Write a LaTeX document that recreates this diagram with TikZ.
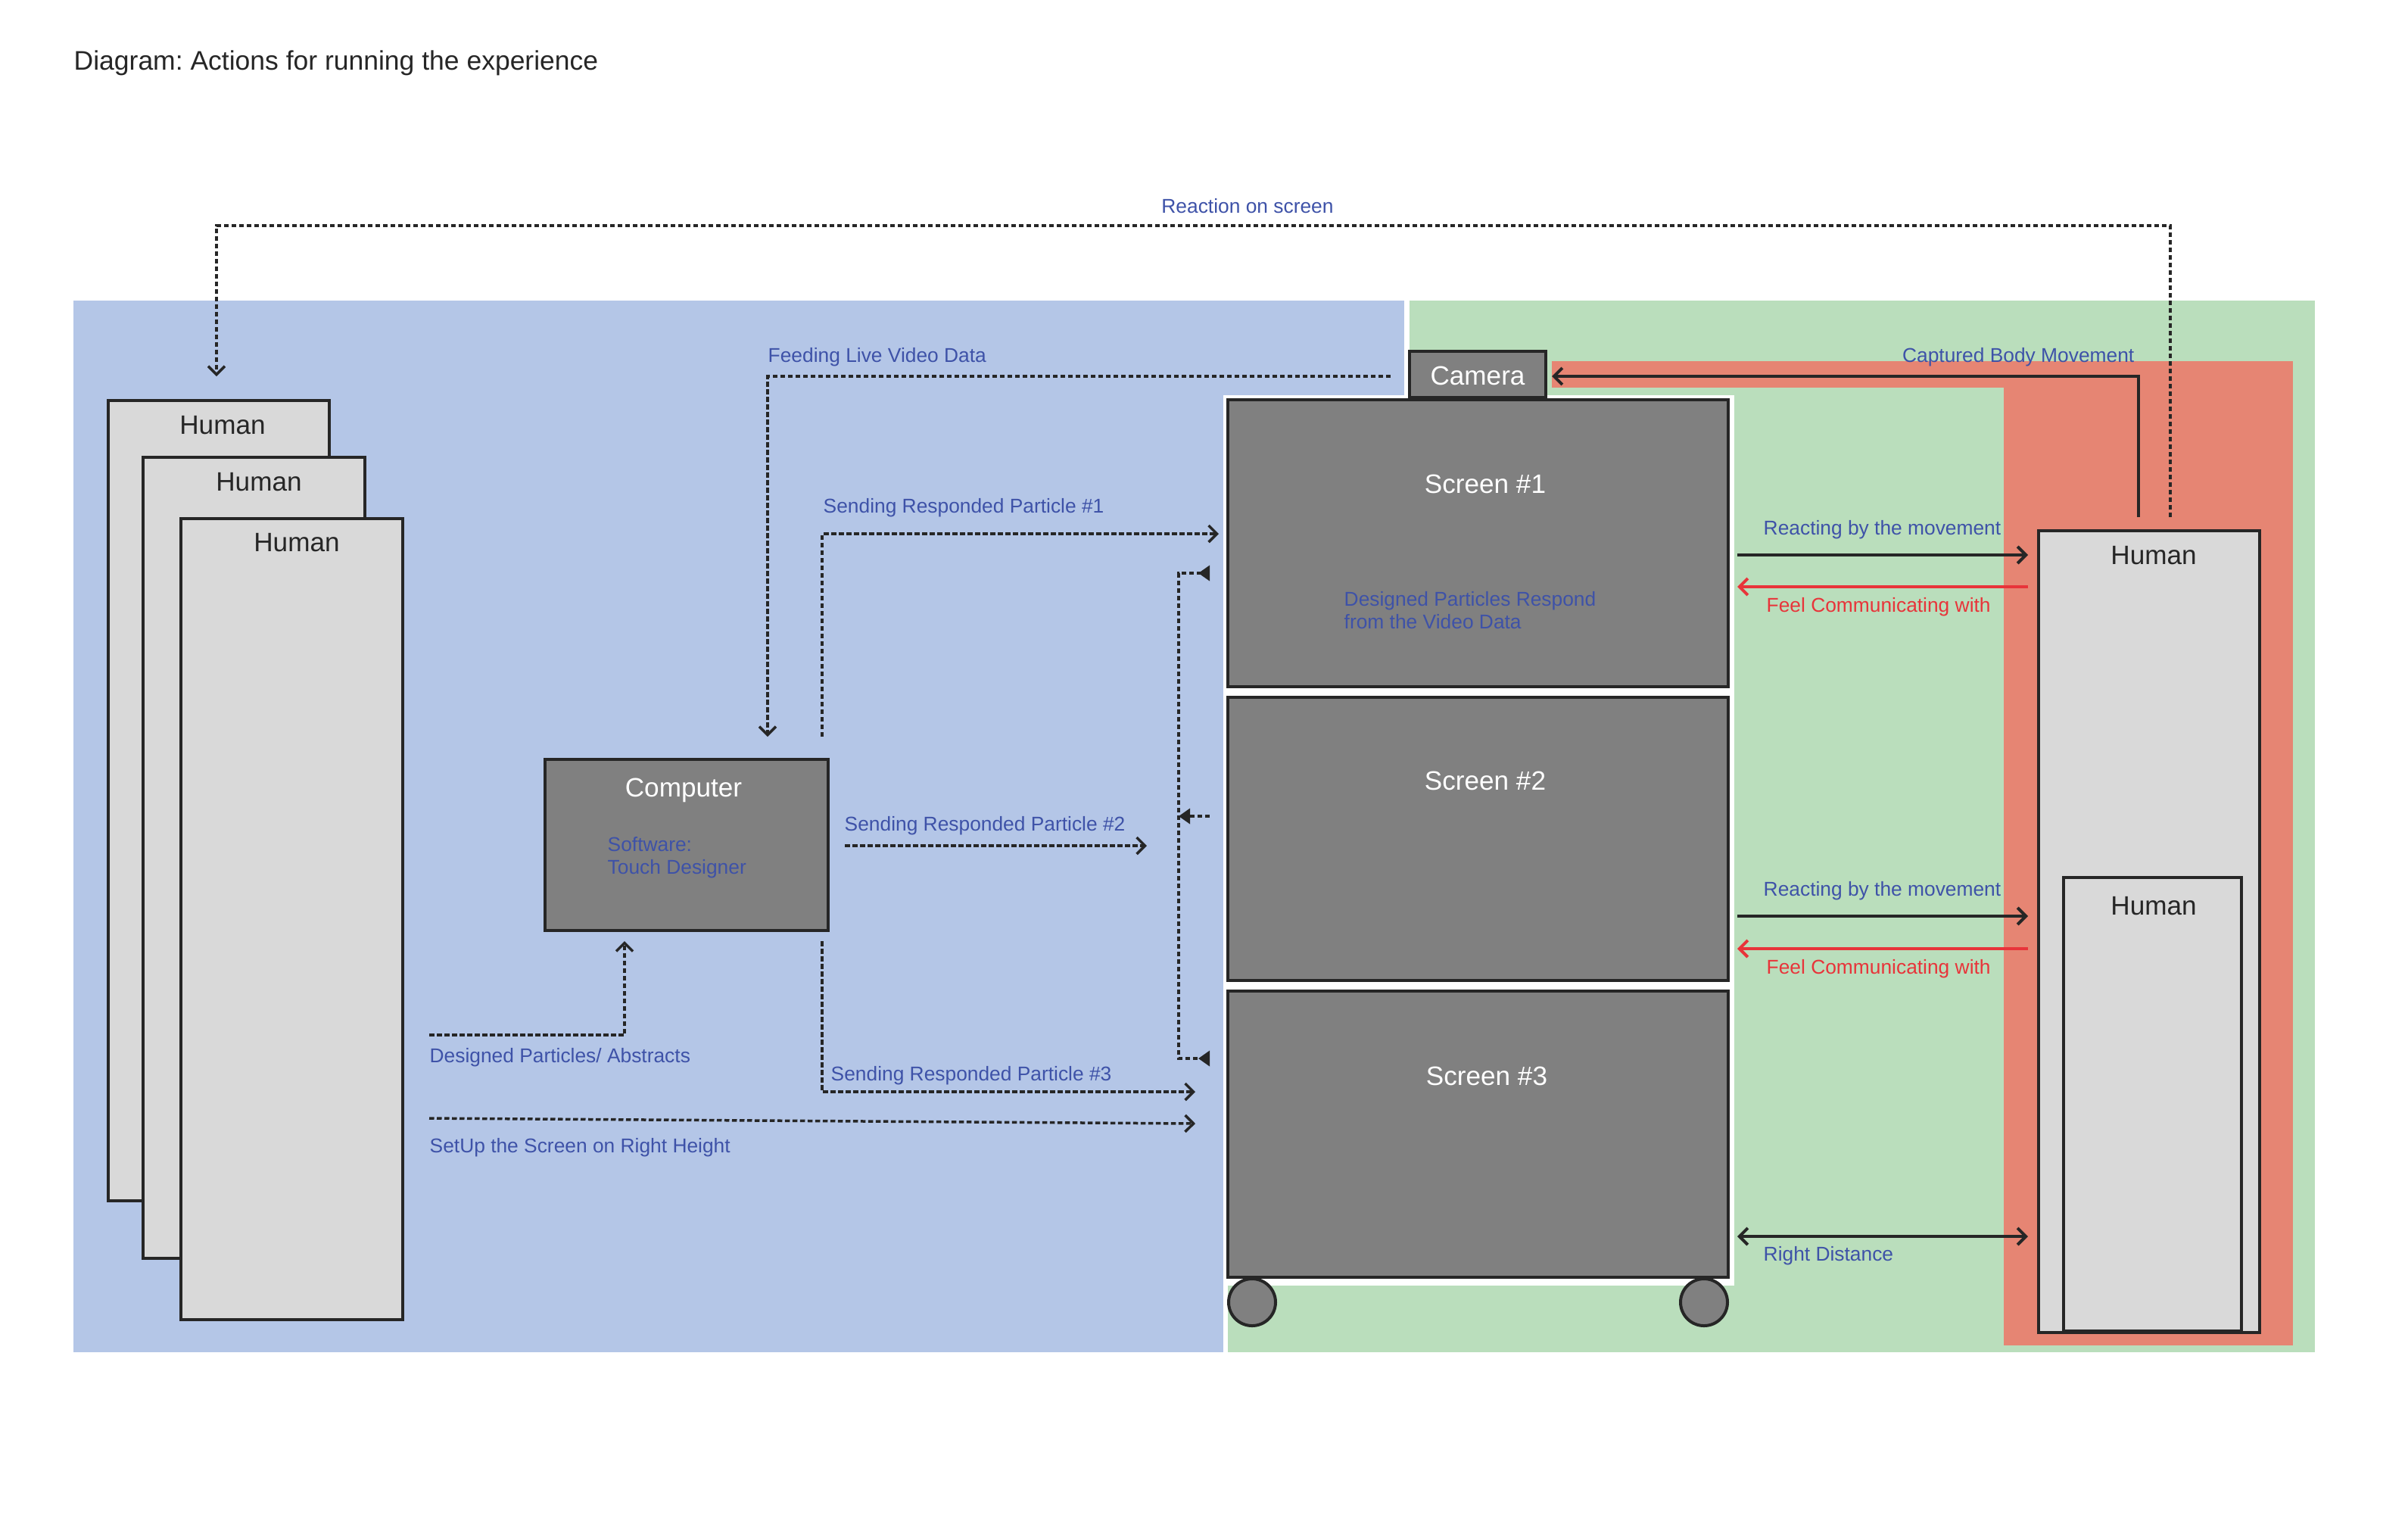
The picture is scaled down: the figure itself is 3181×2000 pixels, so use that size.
\documentclass[tikz,border=0pt]{standalone}
\usepackage{fontspec}
\setmainfont{Liberation Sans}
\usetikzlibrary{arrows.meta}
\frenchspacing

\definecolor{ink}{RGB}{38,38,38}
\definecolor{bgblue}{RGB}{180,198,231}
\definecolor{bggreen}{RGB}{186,222,188}
\definecolor{bgred}{RGB}{230,133,115}
\definecolor{boxgray}{RGB}{128,128,128}
\definecolor{boxlight}{RGB}{217,217,217}
\definecolor{noteblue}{RGB}{62,82,168}
\definecolor{alertred}{RGB}{232,52,58}

\begin{document}
\begin{tikzpicture}[x=0.1mm,y=-0.1mm,
  chev/.tip={Straight Barb[length=1.1mm,width=2.2mm]},
  tri/.tip={Triangle[length=1.5mm,width=2.0mm]},
  box/.style={draw=ink, anchor=north west, inner sep=0, outer sep=0},
  person/.style={box, fill=boxlight, line width=0.4mm},
  device/.style={box, fill=boxgray, line width=0.45mm},
  wheel/.style={draw=ink, fill=boxgray, line width=0.4mm, circle, minimum size=6.2mm, inner sep=0},
  heading/.style={font=\fontsize{10.1}{12}\selectfont, text=ink, inner sep=0, anchor=base west},
  darklbl/.style={font=\fontsize{10}{12}\selectfont, text=ink, inner sep=0, anchor=base},
  whitelbl/.style={font=\fontsize{10}{12}\selectfont, text=white, inner sep=0, anchor=base},
  note/.style={font=\fontsize{7.5}{8.5}\selectfont, text=noteblue, inner sep=0, anchor=base west, align=left},
  alert/.style={note, text=alertred},
  flow/.style={draw=ink, line width=0.35mm, dash pattern=on 0.65mm off 0.35mm},
  link/.style={draw=ink, line width=0.4mm},
  feel/.style={draw=alertred, line width=0.4mm},
]
\useasboundingbox (0,0) rectangle (3181,2000);
\fill[white] (0,0) rectangle (3181,2000);

% zones
\fill[bgblue] (97,397) rectangle (1855,1786);
\fill[bggreen] (1862,397) rectangle (3058,1786);
\fill[white] (1616,522) rectangle (2291,1786);
\fill[bggreen] (1622,1698) rectangle (2291,1786);
\fill[bgred] (2050,477) rectangle (3029,512);
\fill[bgred] (2647,477) rectangle (3029,1777);

% title
\node[heading] (title) at (97,92) {Diagram: Actions for running the experience};

% people on the left
\node[person, minimum width=29.2mm, minimum height=105.7mm] (hA) at (143,529) {};
\node[darklbl] (hAt) at (294,573) {Human};
\node[person, minimum width=29.3mm, minimum height=105.8mm] (hB) at (189,604) {};
\node[darklbl] (hBt) at (342,648) {Human};
\node[person, minimum width=29.3mm, minimum height=105.8mm] (hC) at (239,685) {};
\node[darklbl] (hCt) at (392,728) {Human};

% computer (multi-line notes sit on the baseline of their last line)
\node[device, minimum width=37.4mm, minimum height=22.6mm] (pc) at (720,1003) {};
\node[whitelbl] (pct) at (903,1052) {Computer};
\node[note] (pcsw) at (802,1154) {Software:\\Touch Designer};

% screen stack with wheels
\node[wheel] (wl) at (1654,1720) {};
\node[wheel] (wr) at (2251,1720) {};
\node[device, minimum width=66.1mm, minimum height=37.9mm] (s1) at (1622,528) {};
\node[whitelbl] (s1t) at (1962,651) {Screen \#1};
\node[note] (s1n) at (1775,830) {Designed Particles Respond\\from the Video Data};
\node[device, minimum width=66.1mm, minimum height=37.4mm] (s2) at (1622,921) {};
\node[whitelbl] (s2t) at (1962,1043) {Screen \#2};
\node[device, minimum width=66.1mm, minimum height=37.8mm] (s3) at (1622,1309) {};
\node[whitelbl] (s3t) at (1964,1433) {Screen \#3};

% camera
\node[device, minimum width=18.0mm, minimum height=6.1mm] (cam) at (1862,464) {};
\node[whitelbl] (camt) at (1952,508) {Camera};

% people on the right
\node[person, minimum width=29.2mm, minimum height=105.9mm] (hR) at (2693,701) {};
\node[darklbl] (hRt) at (2845,745) {Human};
\node[person, minimum width=23.5mm, minimum height=59.9mm] (hS) at (2726,1159) {};
\node[darklbl] (hSt) at (2845,1208) {Human};

% free ends of the connectors
\coordinate (rsA) at (2867,683);
\coordinate (rsB) at (286,497);
\coordinate (fdA) at (1837,497);
\coordinate (fdB) at (1014,973);
\coordinate (p1A) at (1086,973);
\coordinate (p1B) at (1610,705);
\coordinate (p2A) at (1116,1117);
\coordinate (p2B) at (1515,1117);
\coordinate (p3A) at (1086,1243);
\coordinate (p3B) at (1579,1442);
\coordinate (brA) at (1598,757);
\coordinate (brB) at (1598,1078);
\coordinate (brC) at (1598,1398);
\coordinate (brM) at (1557,1078);
\coordinate (dpA) at (567,1367);
\coordinate (dpB) at (825,1243);
\coordinate (suA) at (567,1477);
\coordinate (suB) at (1579,1484);
\coordinate (cbA) at (2825,683);
\coordinate (cbB) at (2050,497);
\coordinate (rxL1) at (2295,733);
\coordinate (rxR1) at (2679,733);
\coordinate (fcL1) at (2295,775);
\coordinate (fcR1) at (2679,775);
\coordinate (rxL2) at (2295,1210);
\coordinate (rxR2) at (2679,1210);
\coordinate (fcL2) at (2295,1253);
\coordinate (fcR2) at (2679,1253);
\coordinate (rdL) at (2295,1633);
\coordinate (rdR) at (2679,1633);

% dotted data flows
\draw[flow, -chev] (rsA) |- (1500,298) -| (rsB);
\node[note, anchor=base] (rsl) at (1648,281) {Reaction on screen};

\draw[flow, -chev] (fdA) -| (fdB);
\node[note] (fdl) at (1014,478) {Feeding Live Video Data};

\draw[flow, -chev] (p1A) |- (p1B);
\node[note] (p1l) at (1087,677) {Sending Responded Particle \#1};

\draw[flow, -chev] (p2A) -- (p2B);
\node[note] (p2l) at (1115,1097) {Sending Responded Particle \#2};

\draw[flow, -chev] (p3A) |- (p3B);
\node[note] (p3l) at (1097,1427) {Sending Responded Particle \#3};

\draw[flow, {tri[reversed]}-{tri[reversed]}] (brA) -| (brM) |- (brC);
\draw[flow, -tri] (brB) -- (brM);

\draw[flow, -chev] (dpA) -| (dpB);
\node[note] (dpl) at (567,1403) {Designed Particles/ Abstracts};

\draw[flow, -chev] (suA) -- (suB);
\node[note] (sul) at (567,1522) {SetUp the Screen on Right Height};

% solid links on the right
\draw[link, -chev] (cbA) |- (cbB);
\node[note, anchor=base east] (cbl) at (2820,478) {Captured Body Movement};

\draw[link, -chev] (rxL1) -- (rxR1);
\node[note] (rxt1) at (2329,706) {Reacting by the movement};
\draw[feel, -chev] (fcR1) -- (fcL1);
\node[alert] (fct1) at (2333,808) {Feel Communicating with};

\draw[link, -chev] (rxL2) -- (rxR2);
\node[note] (rxt2) at (2329,1183) {Reacting by the movement};
\draw[feel, -chev] (fcR2) -- (fcL2);
\node[alert] (fct2) at (2333,1286) {Feel Communicating with};

\draw[link, chev-chev] (rdL) -- (rdR);
\node[note] (rdt) at (2329,1665) {Right Distance};
\end{tikzpicture}
\end{document}
